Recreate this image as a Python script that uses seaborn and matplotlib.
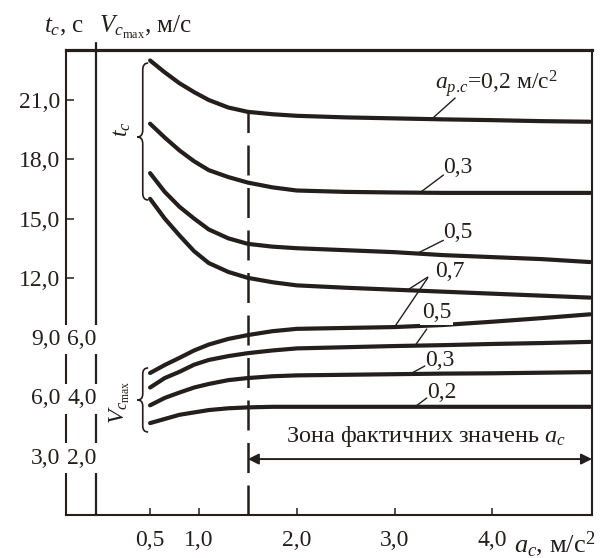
import numpy as np
import pandas as pd
import matplotlib
matplotlib.use("Agg")
import matplotlib.pyplot as plt
import seaborn as sns
from matplotlib.path import Path
from matplotlib.patches import PathPatch

# ---------------- data ----------------
a_c = [0.5, 0.65, 0.8, 0.95, 1.1, 1.3, 1.5, 1.75, 2.0, 2.5, 3.0, 3.5, 4.0, 4.5, 5.0]

# braking time t_c, s  (a_p.c = 0.2, 0.3, 0.5, 0.7 m/s^2)
t_02 = [23.0, 22.4, 21.85, 21.4, 21.0, 20.62, 20.4, 20.28, 20.2, 20.12, 20.07, 20.02, 19.98, 19.93, 19.9]
t_03 = [19.8, 19.1, 18.45, 17.9, 17.45, 17.1, 16.82, 16.58, 16.42, 16.35, 16.32, 16.3, 16.3, 16.3, 16.3]
t_05 = [17.3, 16.35, 15.6, 15.0, 14.45, 14.0, 13.72, 13.58, 13.5, 13.4, 13.3, 13.15, 13.05, 12.95, 12.8]
t_07 = [16.0, 15.0, 14.15, 13.35, 12.75, 12.3, 12.0, 11.78, 11.62, 11.5, 11.4, 11.3, 11.2, 11.1, 11.0]

# maximal speed V_c max, m/s (a_p.c = 0.7, 0.5, 0.3, 0.2 m/s^2)
v_07 = [4.79, 5.06, 5.30, 5.55, 5.75, 5.94, 6.07, 6.20, 6.28, 6.31, 6.34, 6.41, 6.52, 6.64, 6.77]
v_05 = [4.30, 4.62, 4.83, 5.07, 5.23, 5.36, 5.46, 5.55, 5.62, 5.66, 5.70, 5.73, 5.77, 5.80, 5.84]
v_03 = [3.70, 3.95, 4.13, 4.30, 4.42, 4.55, 4.62, 4.68, 4.71, 4.73, 4.75, 4.77, 4.78, 4.80, 4.82]
v_02 = [3.10, 3.24, 3.38, 3.46, 3.54, 3.60, 3.63, 3.65, 3.65, 3.65, 3.65, 3.65, 3.65, 3.65, 3.65]

t_ticks = [3, 6, 9, 12, 15, 18, 21]
t_ticklabels = ["3,0", "6,0", "9,0", "12,0", "15,0", "18,0", "21,0"]
v_ticks = [2, 4, 6]
v_ticklabels = ["2,0", "4,0", "6,0"]
x_ticks = [0.5, 1.0, 2.0, 3.0, 4.0]
x_ticklabels = ["0,5", "1,0", "2,0", "3,0", "4,0"]
zone_start = 1.5

# ---------------- style ----------------
sns.set_theme(style="white")
plt.rcParams["font.family"] = ["Liberation Serif", "DejaVu Serif"]
plt.rcParams["mathtext.fontset"] = "custom"
plt.rcParams["mathtext.rm"] = "Liberation Serif"
plt.rcParams["mathtext.it"] = "Liberation Serif:italic"
plt.rcParams["mathtext.bf"] = "Liberation Serif:bold"

INK = "#241e1c"
FS = 17
LW_CURVE = 3.0

fig = plt.figure(figsize=(6.15, 5.58), dpi=100)
fig.patch.set_facecolor("white")
ax = fig.add_axes([66 / 615, 1 - 515 / 558, (592 - 66) / 615, (515 - 50) / 558])
ax.set_xlim(-0.36, 5.02)
T_TOP = 23.53
V_PER_T = 1 / 1.5
ax.set_ylim(0, T_TOP)

ax2 = ax.twinx()
ax2.set_ylim(0, T_TOP * V_PER_T)

# t curves
for ys in (t_02, t_03, t_05, t_07):
    df = pd.DataFrame({"a": a_c, "v": ys})
    sns.lineplot(data=df, x="a", y="v", ax=ax, color=INK, lw=LW_CURVE,
                 legend=False, solid_capstyle="round", solid_joinstyle="round")
# V curves
for ys in (v_07, v_05, v_03, v_02):
    df = pd.DataFrame({"a": a_c, "v": ys})
    sns.lineplot(data=df, x="a", y="v", ax=ax2, color=INK, lw=LW_CURVE,
                 legend=False, solid_capstyle="round", solid_joinstyle="round")

ax.set_xlabel("")
ax.set_ylabel("")
ax2.set_xlabel("")
ax2.set_ylabel("")

# spines
for s in ax.spines.values():
    s.set_color(INK)
    s.set_linewidth(1.5)
ax.spines["top"].set_linewidth(2.3)
for s in ax2.spines.values():
    s.set_visible(False)

# ticks
ax.set_xticks(x_ticks)
ax.set_xticklabels(x_ticklabels, fontsize=FS, color=INK)
ax.set_yticks(t_ticks)
ax.set_yticklabels(t_ticklabels, fontsize=FS, color=INK)
ax.tick_params(axis="x", direction="in", length=5, width=1.1, color=INK, pad=11,
               bottom=True, top=False)
ax.tick_params(axis="y", direction="in", length=6, width=1.1, color=INK, pad=4,
               left=True, right=False)

ax2.set_yticks(v_ticks)
ax2.set_yticklabels(v_ticklabels, fontsize=FS, color=INK)
ax2.tick_params(axis="y", left=True, right=False, labelleft=True, labelright=False,
                length=0, pad=-22)
for lab in ax2.get_yticklabels():
    lab.set_bbox(dict(fc="white", ec="none", pad=3))

# V axis line
ax.axvline(-0.05, ymin=0, ymax=1.015, color=INK, lw=1.6, clip_on=False, zorder=1)

# dashed boundary of the actual zone
ax.vlines(zone_start, 0, np.interp(zone_start, a_c, t_02), colors=INK, lw=1.8,
          linestyles=(0, (12, 5)), zorder=3)

# zone arrow + text
ax.annotate("", xy=(5.02, 2.83), xytext=(zone_start, 2.83),
            arrowprops=dict(arrowstyle="<|-|>", lw=1.4, color=INK,
                            mutation_scale=16, shrinkA=0, shrinkB=0))
ax.text(3.32, 3.95, "Зона фактичних значень $a_c$", ha="center", va="center",
        fontsize=17.5, color=INK)

# headers
fig.text(44 / 615, 1 - 27 / 558, "$t_c$, с", ha="left", va="center", fontsize=18, color=INK)
fig.text(99 / 615, 1 - 27 / 558, r"$V_{c_{\mathrm{max}}}$, м/с", ha="left", va="center",
         fontsize=18, color=INK)
# x-axis label
ax.text(4.22, -0.062, "$a_c$, м/с$^2$", transform=ax.get_xaxis_transform(),
        ha="left", va="center", fontsize=19, color=INK, clip_on=False)


# braces
def brace(axis, x, y0, y1, ym, w, d):
    verts = [(x + w, y0), (x, y0), (x, y0 + d), (x, ym - d),
             (x, ym), (x - w, ym), (x, ym), (x, ym + d),
             (x, y1 - d), (x, y1), (x + w, y1)]
    codes = [Path.MOVETO, Path.CURVE3, Path.CURVE3, Path.LINETO,
             Path.CURVE3, Path.CURVE3, Path.CURVE3, Path.CURVE3,
             Path.LINETO, Path.CURVE3, Path.CURVE3]
    axis.add_patch(PathPatch(Path(verts, codes), fill=False, lw=1.2, ec=INK,
                             clip_on=False))


brace(ax, 0.425, 15.94, 22.87, 19.13, 0.055, 0.35)
brace(ax, 0.425, 4.2, 7.44, 5.82, 0.055, 0.3)
ax.text(0.215, 19.5, "$t_c$", rotation=90, ha="center", va="center", fontsize=FS, color=INK)
ax.text(0.19, 5.72, r"$V_{c_{\mathrm{max}}}$", rotation=90, ha="center", va="center",
        fontsize=FS, color=INK)

# curve labels with leaders
leader = dict(arrowstyle="-", lw=1.0, color=INK, shrinkA=0, shrinkB=0)
ax.text(4.04, 21.86, r"$a_{p.\!c}$=0,2 м/с$^2$", ha="center", va="center", fontsize=FS, color=INK)
ax.annotate("", xy=(3.38, np.interp(3.38, a_c, t_02)), xytext=(3.62, 21.1), arrowprops=leader)

ax.text(3.5, 17.56, "0,3", ha="left", va="center", fontsize=FS, color=INK)
ax.annotate("", xy=(3.26, np.interp(3.26, a_c, t_03)), xytext=(3.5, 17.2), arrowprops=leader)

ax.text(3.5, 14.27, "0,5", ha="left", va="center", fontsize=FS, color=INK)
ax.annotate("", xy=(3.23, np.interp(3.23, a_c, t_05)), xytext=(3.5, 13.9), arrowprops=leader)

ax.text(3.42, 12.3, "0,7", ha="left", va="center", fontsize=FS, color=INK)
ax.annotate("", xy=(3.13, np.interp(3.13, a_c, t_07)), xytext=(3.34, 12.04), arrowprops=leader)
ax2.annotate("", xy=(3.0, np.interp(3.0, a_c, v_07)), xytext=(3.34, 12.0),
             textcoords=ax.transData, arrowprops=leader)

ax2.text(3.28, 10.27, "0,5", ha="left", va="center", fontsize=FS, color=INK,
         transform=ax.transData, bbox=dict(fc="white", ec="none", pad=1.5), zorder=5)
ax2.annotate("", xy=(3.21, np.interp(3.21, a_c, v_05)), xytext=(3.33, 9.41),
             textcoords=ax.transData, arrowprops=leader)

ax2.text(3.31, 7.84, "0,3", ha="left", va="center", fontsize=FS, color=INK,
         transform=ax.transData)
ax2.annotate("", xy=(3.16, np.interp(3.16, a_c, v_03)), xytext=(3.31, 7.54),
             textcoords=ax.transData, arrowprops=leader)

ax2.text(3.33, 6.22, "0,2", ha="left", va="center", fontsize=FS, color=INK,
         transform=ax.transData)
ax2.annotate("", xy=(3.21, np.interp(3.21, a_c, v_02)), xytext=(3.33, 5.92),
             textcoords=ax.transData, arrowprops=leader)

fig.savefig("out.png", dpi=100, facecolor="white")
